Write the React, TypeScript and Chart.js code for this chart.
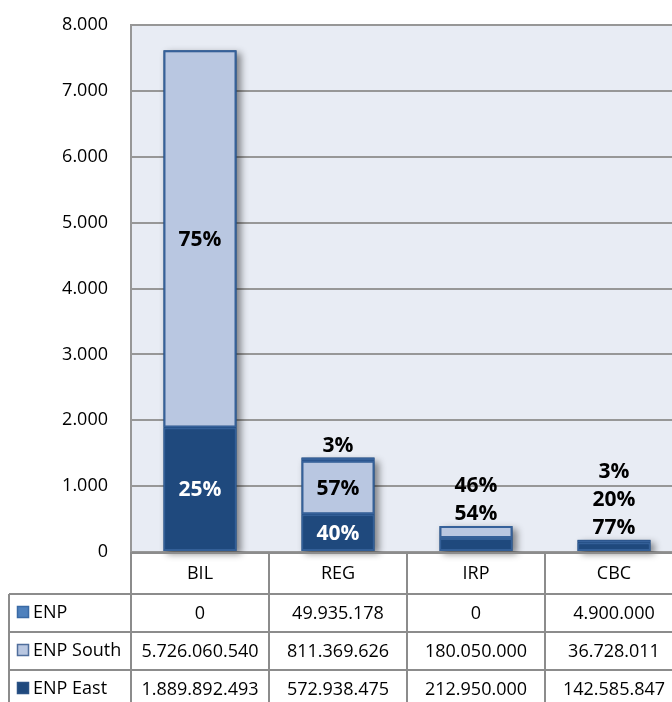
import React, { useEffect, useRef } from "react";
import { Chart, registerables } from "chart.js";

Chart.register(...registerables);

const categories = ["BIL", "REG", "IRP", "CBC"];
const seriesNames = ["ENP", "ENP South", "ENP East"];
const enpValues = [0, 49935178, 0, 4900000];
const southValues = [5726060540, 811369626, 180050000, 36728011];
const eastValues = [1889892493, 572938475, 212950000, 142585847];
const yMax = 8000;
const yStep = 1000;

const FONT = "'Open Sans', 'DejaVu Sans', sans-serif";
const COLORS = {
  enp: "#4F81BD",
  south: "#B9C7E1",
  east: "#1F497D",
  border: "#36619A",
  eastBorder: "#335F97",
  plotBg: "#E8ECF4",
  grid: "#979797",
  table: "#8C8C8C",
};

const fmt = (n: number) =>
  String(Math.round(n)).replace(/\B(?=(\d{3})+(?!\d))/g, ".");

const CANVAS_W = 700;
const CANVAS_H = 720;

export default function App() {
  const ref = useRef<HTMLCanvasElement | null>(null);

  useEffect(() => {
    if (!ref.current) return;

    const bgPlugin = {
      id: "plotBg",
      beforeDraw(chart: any) {
        const { ctx, chartArea } = chart;
        ctx.save();
        ctx.fillStyle = COLORS.plotBg;
        ctx.fillRect(
          chartArea.left,
          chartArea.top,
          chartArea.right - chartArea.left,
          chartArea.bottom - chartArea.top
        );
        ctx.restore();
      },
    };

    const shadowPlugin = {
      id: "barShadow",
      beforeDatasetsDraw(chart: any) {
        const { ctx } = chart;
        const n = categories.length;
        for (let i = 0; i < n; i++) {
          let top = Infinity;
          let base = 0;
          let x = 0;
          let w = 0;
          chart.data.datasets.forEach((ds: any, di: number) => {
            const el = chart.getDatasetMeta(di).data[i] as any;
            if (!el) return;
            x = el.x;
            w = el.width;
            if (di === 0) base = el.base;
            if (ds.data[i] > 0) top = Math.min(top, el.y);
          });
          if (!isFinite(top)) continue;
          ctx.save();
          ctx.shadowColor = "rgba(0,0,0,0.45)";
          ctx.shadowBlur = 7;
          ctx.shadowOffsetX = 4;
          ctx.shadowOffsetY = 3;
          ctx.fillStyle = COLORS.east;
          ctx.fillRect(x - w / 2, top, w, base - top);
          ctx.restore();
        }
      },
    };

    const labelPlugin = {
      id: "pctLabels",
      afterDatasetsDraw(chart: any) {
        const { ctx } = chart;
        ctx.save();
        ctx.font = `bold 21px ${FONT}`;
        ctx.textAlign = "center";
        ctx.textBaseline = "middle";
        for (let i = 0; i < categories.length; i++) {
          const vals = chart.data.datasets.map((ds: any) => ds.raw[i]);
          const total = vals.reduce((a: number, b: number) => a + b, 0);
          let top = Infinity;
          chart.data.datasets.forEach((ds: any, di: number) => {
            const el = chart.getDatasetMeta(di).data[i] as any;
            if (ds.data[i] > 0) top = Math.min(top, el.y);
          });
          let k = 0;
          chart.data.datasets.forEach((ds: any, di: number) => {
            const v = ds.raw[i];
            if (!v) return;
            const el = chart.getDatasetMeta(di).data[i] as any;
            const pct = Math.round((v / total) * 100) + "%";
            const h = el.base - el.y;
            if (h >= 30) {
              ctx.fillStyle = ds.labelColor;
              ctx.fillText(pct, el.x, (el.y + el.base) / 2 + 1);
            } else {
              ctx.fillStyle = "#000";
              ctx.fillText(pct, el.x, top - 12 - k * 28);
              k++;
            }
          });
        }
        ctx.restore();
      },
    };

    const tablePlugin = {
      id: "dataTable",
      afterDraw(chart: any) {
        const { ctx, chartArea } = chart;
        const xs = chart.scales.x;
        const n = categories.length;
        const colW = (chartArea.right - chartArea.left) / n;
        const y0 = chartArea.bottom;
        const headerH = 42;
        const rowH = 38;
        const tableLeft = 9;
        const rowsY = [y0, y0 + headerH];
        for (let r = 0; r < seriesNames.length; r++)
          rowsY.push(y0 + headerH + (r + 1) * rowH);
        const bottom = rowsY[rowsY.length - 1];

        ctx.save();
        ctx.strokeStyle = COLORS.table;
        ctx.lineWidth = 2;
        ctx.beginPath();
        ctx.moveTo(chartArea.left, y0 + 1);
        ctx.lineTo(chartArea.right, y0 + 1);
        for (let r = 1; r < rowsY.length; r++) {
          ctx.moveTo(tableLeft, rowsY[r]);
          ctx.lineTo(chartArea.right, rowsY[r]);
        }
        ctx.moveTo(tableLeft, rowsY[1]);
        ctx.lineTo(tableLeft, bottom);
        for (let c = 0; c <= n; c++) {
          const x = chartArea.left + c * colW;
          ctx.moveTo(x, y0);
          ctx.lineTo(x, bottom);
        }
        ctx.stroke();

        ctx.font = `18px ${FONT}`;
        ctx.fillStyle = "#000";
        ctx.textAlign = "center";
        ctx.textBaseline = "middle";
        categories.forEach((c, i) => {
          ctx.fillText(c, xs.getPixelForValue(i), y0 + headerH / 2 + 1);
        });

        const rows = [
          { name: seriesNames[0], vals: enpValues, fill: COLORS.enp, stroke: "#3A6AA5" },
          { name: seriesNames[1], vals: southValues, fill: COLORS.south, stroke: "#4F6E9C" },
          { name: seriesNames[2], vals: eastValues, fill: COLORS.east, stroke: "#2B5285" },
        ];
        rows.forEach((row, r) => {
          const cy = rowsY[r + 1] + rowH / 2;
          ctx.fillStyle = row.fill;
          ctx.fillRect(17, cy - 7, 12, 12);
          ctx.strokeStyle = row.stroke;
          ctx.lineWidth = 1.5;
          ctx.strokeRect(17.5, cy - 6.5, 11, 11);
          ctx.fillStyle = "#000";
          ctx.textAlign = "left";
          ctx.fillText(row.name, 33, cy);
          ctx.textAlign = "center";
          row.vals.forEach((v, i) => {
            ctx.fillText(fmt(v), xs.getPixelForValue(i), cy + 1);
          });
        });
        ctx.restore();
      },
    };

    const mk = (raw: number[], label: string, bg: string, bc: string, lc: string) => ({
      label,
      raw,
      labelColor: lc,
      data: raw.map((v) => v / 1e6),
      backgroundColor: bg,
      borderColor: bc,
      borderWidth: 2,
      borderSkipped: false,
      stack: "s",
      categoryPercentage: 1,
      barPercentage: 0.53,
    });

    const chart = new Chart(ref.current, {
      type: "bar",
      data: {
        labels: categories,
        datasets: [
          mk(eastValues, seriesNames[2], COLORS.east, COLORS.eastBorder, "#fff"),
          mk(southValues, seriesNames[1], COLORS.south, COLORS.border, "#000"),
          mk(enpValues, seriesNames[0], COLORS.enp, COLORS.border, "#000"),
        ] as any,
      },
      options: {
        responsive: false,
        animation: false,
        devicePixelRatio: 1,
        layout: { padding: { left: 0, top: 25, right: CANVAS_W - 683, bottom: CANVAS_H - 552 } },
        plugins: {
          legend: { display: false },
          tooltip: { enabled: false },
          title: { display: false },
        },
        scales: {
          x: {
            stacked: true,
            display: false,
          },
          y: {
            stacked: true,
            min: 0,
            max: yMax,
            afterFit: (s: any) => {
              s.width = 131;
              s.paddingTop = 0;
              s.paddingBottom = 0;
            },
            ticks: {
              stepSize: yStep,
              padding: 23,
              color: "#000",
              font: { family: FONT, size: 18 },
              callback: (v: any) => fmt(Number(v)),
            },
            grid: {
              color: COLORS.grid,
              lineWidth: 2,
              drawTicks: false,
            },
            border: { display: true, color: COLORS.grid, width: 2 },
          },
        },
      } as any,
      plugins: [bgPlugin, shadowPlugin, labelPlugin, tablePlugin],
    });

    return () => chart.destroy();
  }, []);

  return (
    <div
      style={{
        position: "absolute",
        left: 0,
        top: 0,
        width: 672,
        height: 702,
        overflow: "hidden",
        background: "#fff",
      }}
    >
      <canvas
        ref={ref}
        width={CANVAS_W}
        height={CANVAS_H}
        style={{ width: CANVAS_W, height: CANVAS_H, display: "block" }}
      />
    </div>
  );
}
